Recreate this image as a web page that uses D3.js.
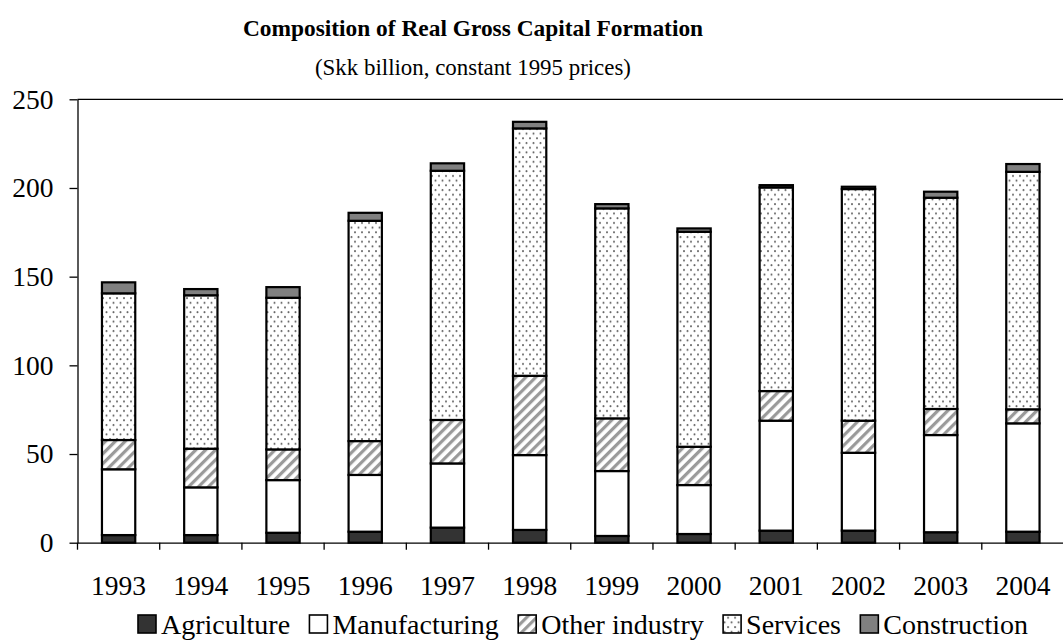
<!DOCTYPE html>
<html>
<head>
<meta charset="utf-8">
<script src="https://cdn.jsdelivr.net/npm/d3@7/dist/d3.min.js"></script>
<style>
  html, body { margin: 0; padding: 0; background: #fff; }
  svg { display: block; font-family: "Liberation Serif", "Times New Roman", serif; }
</style>
</head>
<body>
<svg id="chart" width="1063" height="641"></svg>
<script>
// Real gross capital formation by sector, Skk billion at constant 1995 prices
const years = ["1993","1994","1995","1996","1997","1998","1999","2000","2001","2002","2003","2004"];
const agriculture   = [4.3, 4.3, 5.6, 6.2, 8.5, 7.2, 3.8, 4.9, 6.8, 6.8, 5.9, 6.2];
const manufacturing = [37.1, 26.9, 29.7, 32.0, 36.2, 42.2, 36.6, 27.6, 62.0, 43.9, 54.8, 61.1];
const otherIndustry = [16.5, 21.8, 17.3, 19.1, 24.5, 44.7, 29.7, 21.6, 16.7, 18.1, 14.7, 7.9];
const services      = [82.7, 86.5, 85.5, 124.2, 140.5, 139.5, 118.4, 121.2, 114.8, 130.6, 119.1, 133.9];
const construction  = [6.2, 3.5, 6.0, 4.5, 4.2, 3.7, 2.4, 1.9, 1.3, 1.3, 3.4, 4.4];
const seriesNames = ["Agriculture", "Manufacturing", "Other industry", "Services", "Construction"];
const yTicks = [0, 50, 100, 150, 200, 250];

const seriesValues = [agriculture, manufacturing, otherIndustry, services, construction];
const seriesFills = ["#333333", "#ffffff", "url(#hatch)", "url(#dots)", "#808080"];
const serif = "'Liberation Serif', 'Times New Roman', serif";

const svg = d3.select("#chart");
const defs = svg.append("defs");

// Diagonal hatch for "Other industry"
const hatch = defs.append("pattern")
  .attr("id", "hatch").attr("patternUnits", "userSpaceOnUse")
  .attr("width", 7).attr("height", 7)
  .attr("patternTransform", "rotate(45)");
hatch.append("rect").attr("width", 7).attr("height", 7).attr("fill", "#fff");
hatch.append("rect").attr("x", 0).attr("width", 3.2).attr("height", 7).attr("fill", "#9a9a9a");

// Dotted fill for "Services"
const dots = defs.append("pattern")
  .attr("id", "dots").attr("patternUnits", "userSpaceOnUse")
  .attr("width", 7).attr("height", 9.4);
dots.append("rect").attr("width", 7).attr("height", 9.4).attr("fill", "#fff");
dots.append("circle").attr("cx", 1.5).attr("cy", 2).attr("r", 1).attr("fill", "#666");
dots.append("circle").attr("cx", 5).attr("cy", 6.7).attr("r", 1).attr("fill", "#666");

// Plot geometry
const plotLeft = 77.5, plotRight = 1064, plotTop = 99.3, plotBottom = 542.7;

const x = d3.scaleBand().domain(years).range([plotLeft, plotRight]).padding(0);
const y = d3.scaleLinear().domain([0, 250]).range([plotBottom, plotTop]);
const barW = x.bandwidth() * 0.405;

// Stack the series
const table = years.map((yr, i) => {
  const row = { year: yr };
  seriesNames.forEach((n, k) => { row[n] = seriesValues[k][i]; });
  return row;
});
const stacked = d3.stack().keys(seriesNames)(table);

// Top frame line
svg.append("line")
  .attr("x1", plotLeft).attr("x2", plotRight)
  .attr("y1", y(250)).attr("y2", y(250))
  .attr("stroke", "#000").attr("stroke-width", 1.3);

// Bars
const layers = svg.append("g").selectAll("g")
  .data(stacked).join("g")
  .attr("fill", (d, i) => seriesFills[i]);

layers.selectAll("rect")
  .data(d => d).join("rect")
  .attr("x", d => x(d.data.year) + (x.bandwidth() - barW) / 2)
  .attr("width", barW)
  .attr("y", d => y(d[1]))
  .attr("height", d => y(d[0]) - y(d[1]))
  .attr("stroke", "#000")
  .attr("stroke-width", 2.2);

// Y axis
const yAxis = svg.append("g")
  .attr("transform", `translate(${plotLeft},0)`)
  .call(d3.axisLeft(y).tickValues(yTicks).tickSize(8).tickSizeOuter(0).tickPadding(16));
yAxis.attr("font-family", serif).attr("font-size", 27.5);
yAxis.select(".domain").attr("stroke-width", 1.3);
yAxis.selectAll(".tick line").attr("stroke-width", 1.3);
yAxis.selectAll("text").attr("fill", "#000");

// X axis: labels at band centres, ticks at band boundaries
const xAxis = svg.append("g")
  .attr("transform", `translate(0,${plotBottom})`)
  .call(d3.axisBottom(x).tickSize(0).tickSizeOuter(0));
xAxis.attr("font-family", serif).attr("font-size", 27.5);
xAxis.select(".domain").attr("stroke-width", 1.3);
xAxis.selectAll(".tick text")
  .attr("fill", "#000")
  .attr("dy", "0").attr("y", 52.5);

svg.append("g").selectAll("line")
  .data(years.map(yr => x(yr)))
  .join("line")
  .attr("x1", d => d).attr("x2", d => d)
  .attr("y1", plotBottom).attr("y2", plotBottom + 7)
  .attr("stroke", "#000").attr("stroke-width", 1.3);

// Title
svg.append("text")
  .attr("x", 473).attr("y", 36)
  .attr("text-anchor", "middle")
  .attr("font-family", serif)
  .attr("font-size", 23.4).attr("font-weight", "bold")
  .text("Composition of Real Gross Capital Formation");
svg.append("text")
  .attr("x", 473).attr("y", 75)
  .attr("text-anchor", "middle")
  .attr("font-family", serif)
  .attr("font-size", 22.9)
  .text("(Skk billion, constant 1995 prices)");

// Legend, spread across a fixed span
const legendLeft = 138, legendRight = 1028, legendBase = 634, sw = 18, swGap = 5;
const legend = svg.append("g").attr("font-family", serif);
const items = legend.selectAll("g").data(seriesNames).join("g");
items.append("rect")
  .attr("width", sw).attr("height", sw)
  .attr("y", legendBase - sw - 1)
  .attr("fill", (d, i) => seriesFills[i])
  .attr("stroke", "#000").attr("stroke-width", 1.6);
items.append("text")
  .attr("x", sw + swGap).attr("y", legendBase)
  .attr("font-size", 28)
  .text(d => d);

const widths = [];
items.each(function () {
  widths.push(sw + swGap + d3.select(this).select("text").node().getComputedTextLength());
});
const gap = (legendRight - legendLeft - d3.sum(widths)) / (widths.length - 1);
let cx = legendLeft;
items.each(function (d, i) {
  d3.select(this).attr("transform", `translate(${cx},0)`);
  cx += widths[i] + gap;
});
</script>
</body>
</html>
